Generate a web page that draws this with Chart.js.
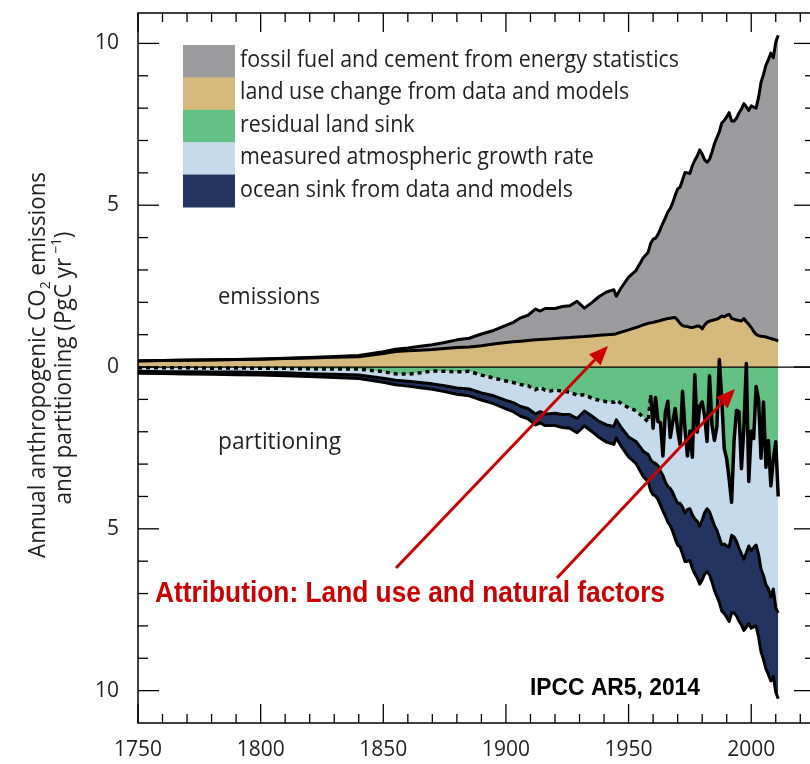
<!DOCTYPE html>
<html>
<head>
<meta charset="utf-8">
<script src="https://cdn.jsdelivr.net/npm/chart.js@4.4.1/dist/chart.umd.min.js"></script>
<style>
  html, body { margin: 0; padding: 0; overflow: hidden; background: #fff; }
  #wrap { width: 830px; height: 764px; }
</style>
</head>
<body>
<div id="wrap"><canvas id="co2" width="830" height="764"></canvas></div>
<script>
// ── Data (PgC / yr) ─────────────────────────────────────────────────────────
const years = [
  1750, 1760, 1770, 1780, 1790, 1800, 1810, 1820, 1830, 1840,
  1850, 1855, 1860, 1865, 1870, 1875, 1880, 1885, 1890, 1895,
  1900, 1903, 1906, 1909, 1912, 1914, 1916, 1918, 1920, 1923,
  1926, 1929, 1932, 1935, 1938, 1941, 1944, 1945, 1947, 1950,
  1953, 1956, 1958,
  1959, 1960, 1961, 1962, 1963, 1964, 1965, 1966, 1967, 1968,
  1969, 1970, 1971, 1972, 1973, 1974, 1975, 1976, 1977, 1978,
  1979, 1980, 1981, 1982, 1983, 1984, 1985, 1986, 1987, 1988,
  1989, 1990, 1991, 1992, 1993, 1994, 1995, 1996, 1997, 1998,
  1999, 2000, 2001, 2002, 2003, 2004, 2005, 2006, 2007, 2008,
  2009, 2010, 2011,
];

const fossilFuel = [
  0.003, 0.003, 0.004, 0.005, 0.006, 0.008, 0.010, 0.014, 0.024, 0.033,
  0.054, 0.070, 0.090, 0.120, 0.150, 0.190, 0.240, 0.270, 0.360, 0.420,
  0.530, 0.600, 0.720, 0.780, 0.950, 0.880, 0.950, 0.940, 0.930, 0.970,
  0.980, 1.100, 0.880, 1.030, 1.200, 1.320, 1.380, 1.160, 1.370, 1.630,
  1.760, 2.080, 2.200,
  2.45, 2.57, 2.58, 2.68, 2.83, 2.99, 3.13, 3.29, 3.39, 3.56,
  3.78, 4.05, 4.21, 4.50, 4.75, 4.75, 4.75, 5.00, 5.15, 5.25,
  5.45, 5.40, 5.10, 4.95, 5.00, 5.20, 5.44, 5.61, 5.75, 5.96,
  6.07, 6.13, 6.23, 6.10, 6.12, 6.24, 6.41, 6.55, 6.64, 6.64,
  6.61, 6.85, 6.93, 6.99, 7.37, 7.85, 8.10, 8.40, 8.60, 8.82,
  8.70, 9.20, 9.45,
];

const landUse = [
  0.19, 0.20, 0.21, 0.22, 0.23, 0.24, 0.26, 0.28, 0.30, 0.32,
  0.42, 0.48, 0.50, 0.52, 0.54, 0.57, 0.60, 0.62, 0.66, 0.71,
  0.76, 0.78, 0.80, 0.82, 0.84, 0.85, 0.86, 0.87, 0.88, 0.90,
  0.91, 0.93, 0.94, 0.96, 0.98, 1.00, 1.01, 1.03, 1.08, 1.15,
  1.22, 1.30, 1.35,
  1.37, 1.38, 1.40, 1.42, 1.44, 1.46, 1.48, 1.50, 1.51, 1.52,
  1.53, 1.45, 1.35, 1.28, 1.26, 1.25, 1.23, 1.22, 1.24, 1.27,
  1.26, 1.18, 1.30, 1.38, 1.42, 1.44, 1.46, 1.48, 1.52, 1.58,
  1.55, 1.60, 1.63, 1.50, 1.48, 1.45, 1.44, 1.42, 1.50, 1.40,
  1.32, 1.22, 1.10, 1.01, 0.97, 0.95, 0.94, 0.93, 0.90, 0.88,
  0.86, 0.84, 0.80,
];

const atmGrowth = [
  0.11, 0.12, 0.12, 0.12, 0.13, 0.13, 0.14, 0.15, 0.16, 0.18,
  0.20, 0.20, 0.22, 0.30, 0.40, 0.45, 0.50, 0.55, 0.55, 0.55,
  0.60, 0.62, 0.68, 0.70, 0.75, 0.75, 0.73, 0.70, 0.72, 0.72,
  0.70, 0.72, 0.50, 0.55, 0.65, 0.72, 0.75, 0.60, 0.75, 0.90,
  0.95, 1.05, 1.00,
  2.00, 1.06, 2.04, 1.36, 1.50, 0.60, 2.16, 2.63, 1.57, 2.18,
  2.78, 2.25, 1.80, 3.58, 2.59, 1.65, 2.40, 1.78, 4.45, 2.76,
  3.71, 3.65, 2.99, 2.08, 4.20, 2.90, 2.63, 3.20, 5.50, 4.47,
  2.95, 2.69, 2.10, 1.02, 2.97, 4.05, 4.22, 2.63, 4.05, 5.85,
  1.99, 3.69, 3.37, 4.90, 4.77, 3.43, 5.36, 3.63, 4.58, 3.43,
  4.00, 5.13, 3.60,
];

const oceanSink = [
  0.06, 0.06, 0.07, 0.07, 0.08, 0.08, 0.09, 0.09, 0.10, 0.11,
  0.13, 0.14, 0.15, 0.16, 0.17, 0.18, 0.19, 0.21, 0.22, 0.24,
  0.26, 0.28, 0.30, 0.32, 0.34, 0.35, 0.36, 0.37, 0.38, 0.40,
  0.42, 0.44, 0.46, 0.48, 0.50, 0.53, 0.55, 0.56, 0.58, 0.62,
  0.68, 0.78, 0.85,
  0.95, 1.00, 1.00, 1.05, 1.05, 1.10, 1.05, 1.10, 1.15, 1.20,
  1.25, 1.30, 1.35, 1.45, 1.50, 1.60, 1.60, 1.65, 1.70, 1.75,
  1.80, 1.85, 1.90, 1.95, 1.95, 1.95, 2.00, 2.05, 2.00, 2.05,
  2.15, 2.20, 2.30, 2.40, 2.35, 2.30, 2.25, 2.20, 2.20, 2.30,
  2.40, 2.40, 2.45, 2.50, 2.55, 2.55, 2.60, 2.60, 2.65, 2.60,
  2.70, 2.60, 2.65,
];

const firstMeasuredYear = 1959;   // atmospheric growth from ice cores before this

const xTickLabels = [1750, 1800, 1850, 1900, 1950, 2000];
const yTickLabels = [-10, -5, 0, 5, 10];

const seriesLabels = [
  'fossil fuel and cement from energy statistics',
  'land use change from data and models',
  'residual land sink',
  'measured atmospheric growth rate',
  'ocean sink from data and models',
];

// ── Palette / fonts ─────────────────────────────────────────────────────────
const COL = {
  fossil: '#9c9c9e',
  landUse: '#d6b97c',
  landSink: '#63c185',
  atmos: '#c5daea',
  ocean: '#22345f',
  text: '#231f20',
  red: '#cc0000',
};
const FONT = "'Open Sans', 'Noto Sans', sans-serif";
const BOLD = "'Liberation Sans Narrow', 'Liberation Sans', Arial, sans-serif";

// ── Derived stacks (residual land sink closes the budget) ───────────────────
const total    = years.map((_, i) => fossilFuel[i] + landUse[i]);
const landSink = years.map((_, i) => total[i] - oceanSink[i] - atmGrowth[i]);
const pts = arr => years.map((x, i) => ({ x, y: arr[i] }));
const landEdge = pts(landSink.map(v => -v));

const lineBase = {
  borderColor: '#000',
  borderWidth: 3,
  borderJoinStyle: 'round',
  pointRadius: 0,
  tension: 0,
};

// ── Helpers ─────────────────────────────────────────────────────────────────
function fitText(ctx, str, x, y, w, font, color) {
  ctx.save();
  ctx.font = font;
  ctx.fillStyle = color;
  ctx.textBaseline = 'alphabetic';
  const m = ctx.measureText(str).width;
  ctx.translate(x, y);
  ctx.scale(w / m, 1);
  ctx.fillText(str, 0, 0);
  ctx.restore();
}

function richText(ctx, parts, cx, cy, w, size) {
  ctx.save();
  ctx.translate(cx, cy);
  ctx.rotate(-Math.PI / 2);
  ctx.fillStyle = COL.text;
  ctx.textBaseline = 'alphabetic';
  let sum = 0;
  parts.forEach(p => { ctx.font = `${size * p.k}px ${FONT}`; p.w = ctx.measureText(p.t).width; sum += p.w; });
  ctx.scale(w / sum, 1);
  let x = -sum / 2;
  parts.forEach(p => {
    ctx.font = `${size * p.k}px ${FONT}`;
    ctx.fillText(p.t, x, p.dy * size);
    x += p.w;
  });
  ctx.restore();
}

function arrow(ctx, x1, y1, x2, y2) {
  const a = Math.atan2(y2 - y1, x2 - x1);
  const L = 19, W = 8;
  const bx = x2 - L * Math.cos(a), by = y2 - L * Math.sin(a);
  ctx.beginPath();
  ctx.moveTo(x1, y1);
  ctx.lineTo(bx, by);
  ctx.stroke();
  ctx.beginPath();
  ctx.moveTo(x2, y2);
  ctx.lineTo(bx + W * Math.sin(a), by - W * Math.cos(a));
  ctx.lineTo(bx - W * Math.sin(a), by + W * Math.cos(a));
  ctx.closePath();
  ctx.fill();
}

// ── Plugins ─────────────────────────────────────────────────────────────────
const frameTicks = {
  id: 'frameTicks',
  afterDatasetsDraw(chart) {
    const { ctx, chartArea: a, scales: { x, y } } = chart;
    const seg = (x1, y1, x2, y2) => { ctx.beginPath(); ctx.moveTo(x1, y1); ctx.lineTo(x2, y2); ctx.stroke(); };
    ctx.save();
    ctx.strokeStyle = '#000';

    // zero line
    ctx.lineWidth = 1.2;
    const y0 = y.getPixelForValue(0);
    seg(a.left, y0, a.right, y0);

    // frame
    ctx.lineWidth = 1.5;
    ctx.strokeRect(a.left, a.top, a.right - a.left, a.bottom - a.top);

    // inward ticks, every 10 years / every 1 PgC
    ctx.lineWidth = 1.3;
    for (let yr = 1750; yr <= x.max; yr += 10) {
      const px = x.getPixelForValue(yr);
      const len = yr % 50 === 0 ? 19 : 9;
      seg(px, a.bottom, px, a.bottom - len);
      seg(px, a.top, px, a.top + len);
    }
    for (let v = -10; v <= 10; v += 1) {
      const py = y.getPixelForValue(v);
      const len = v % 5 === 0 ? 21 : 10;
      seg(a.left, py, a.left + len, py);
      seg(a.right, py, a.right - len, py);
    }
    ctx.restore();
  },
};

const annotations = {
  id: 'annotations',
  afterDraw(chart) {
    const { ctx } = chart;

    // legend: contiguous colour blocks with labels
    const swatches = [COL.fossil, COL.landUse, COL.landSink, COL.atmos, COL.ocean];
    const bx = 183, by = 45, bw = 52, bh = 32.4;
    ctx.save();
    ctx.font = `24px ${FONT}`;
    const sx = 439 / ctx.measureText(seriesLabels[0]).width;
    seriesLabels.forEach((lab, i) => {
      ctx.fillStyle = swatches[i];
      ctx.fillRect(bx, by + i * bh, bw, bh + 0.5);
      ctx.save();
      ctx.translate(bx + bw + 5, by + i * bh + 22);
      ctx.scale(sx, 1);
      ctx.fillStyle = COL.text;
      ctx.fillText(lab, 0, 0);
      ctx.restore();
    });
    ctx.restore();

    // in-plot words
    fitText(ctx, 'emissions', 218, 304, 102, `23px ${FONT}`, COL.text);
    fitText(ctx, 'partitioning', 218, 449, 123, `23px ${FONT}`, COL.text);

    // y-axis title (two rotated lines)
    richText(ctx, [
      { t: 'Annual anthropogenic CO', k: 1, dy: 0 },
      { t: '2', k: 0.62, dy: 0.22 },
      { t: ' emissions', k: 1, dy: 0 },
    ], 45, 365, 386, 23);
    richText(ctx, [
      { t: 'and partitioning (PgC yr', k: 1, dy: 0 },
      { t: ' \u22121', k: 0.62, dy: -0.42 },
      { t: ')', k: 1, dy: 0 },
    ], 71, 368, 273, 23);

    // attribution arrows + label
    ctx.save();
    ctx.strokeStyle = COL.red;
    ctx.fillStyle = COL.red;
    ctx.lineWidth = 3;
    arrow(ctx, 396, 568, 608, 346);
    arrow(ctx, 557, 578, 735, 389);
    ctx.restore();
    fitText(ctx, 'Attribution: Land use and natural factors', 155, 602, 510, `bold 30px ${BOLD}`, COL.red);
    fitText(ctx, 'IPCC AR5, 2014', 530, 695, 170, `bold 24px ${BOLD}`, '#000');
  },
};

// ── Chart ───────────────────────────────────────────────────────────────────
const ctx = document.getElementById('co2').getContext('2d');

new Chart(ctx, {
  type: 'line',
  data: {
    datasets: [
      // 0..4: filled bands
      { ...lineBase, label: seriesLabels[1], data: pts(landUse), fill: 'origin', backgroundColor: COL.landUse },
      { ...lineBase, label: seriesLabels[0], data: pts(total), fill: 0, backgroundColor: COL.fossil },
      { ...lineBase, label: seriesLabels[2], data: landEdge, fill: 'origin', backgroundColor: COL.landSink, borderWidth: 0 },
      { ...lineBase, label: seriesLabels[3], data: pts(landSink.map((v, i) => -(v + atmGrowth[i]))), fill: 2, backgroundColor: COL.atmos },
      { ...lineBase, label: seriesLabels[4], data: pts(total.map(v => -v)), fill: 3, backgroundColor: COL.ocean },
      // 5, 6: land-sink edge, dotted (ice core era) and solid (measured era)
      { ...lineBase, label: 'land edge (ice core)', data: landEdge.filter(p => p.x <= firstMeasuredYear), fill: false, borderWidth: 3.5, borderDash: [4, 4] },
      { ...lineBase, label: 'land edge (measured)', data: landEdge.filter(p => p.x >= firstMeasuredYear), fill: false, borderWidth: 3.5 },
    ],
  },
  options: {
    responsive: false,
    animation: false,
    events: [],
    layout: { padding: { left: 0, right: 15, top: 13, bottom: 0 } },
    scales: {
      x: {
        type: 'linear',
        min: 1750,
        max: 2026,
        border: { display: false },
        grid: { display: false, drawTicks: false },
        afterBuildTicks: s => { s.ticks = xTickLabels.map(v => ({ value: v })); },
        afterFit: s => { s.height = 41; s.paddingLeft = 0; s.paddingRight = 0; },
        ticks: {
          autoSkip: false,
          maxRotation: 0,
          padding: 14,
          color: COL.text,
          font: { family: FONT, size: 21 },
          callback: v => String(v),
        },
      },
      y: {
        min: -11.0,
        max: 10.94,
        border: { display: false },
        grid: { display: false, drawTicks: false },
        afterBuildTicks: s => { s.ticks = yTickLabels.map(v => ({ value: v })); },
        afterFit: s => { s.width = 138; s.paddingTop = 0; s.paddingBottom = 0; },
        ticks: {
          padding: 19,
          color: COL.text,
          font: { family: FONT, size: 21 },
          callback: v => String(Math.abs(v)),
        },
      },
    },
    plugins: {
      legend: { display: false },
      tooltip: { enabled: false },
      filler: { propagate: false, drawTime: 'beforeDatasetsDraw' },
    },
  },
  plugins: [frameTicks, annotations],
});
</script>
</body>
</html>
